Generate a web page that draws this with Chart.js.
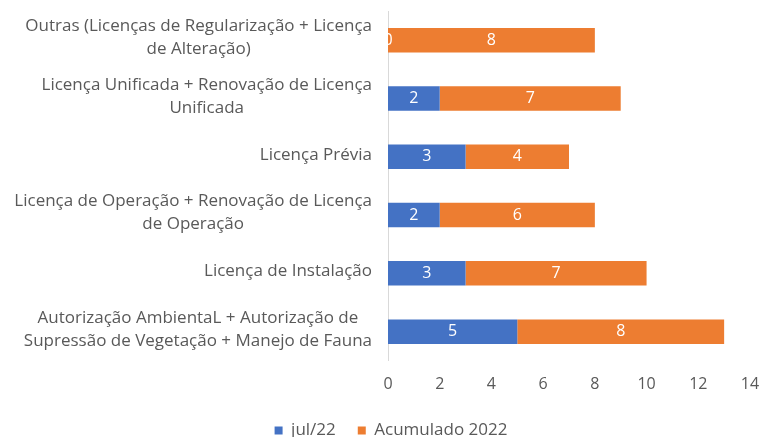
<!DOCTYPE html>
<html>
<head>
<meta charset="utf-8">
<script src="https://cdn.jsdelivr.net/npm/chart.js@4/dist/chart.umd.min.js"></script>
<style>
  html, body { margin: 0; padding: 0; background: #fff; }
  #wrap { width: 762px; height: 437px; }
</style>
</head>
<body>
<div id="wrap"><canvas id="grafico"></canvas></div>
<script>
// categorias (de cima para baixo), cada uma quebrada em linhas como no original
const categorias = [
    ['Outras (Licenças de Regularização + Licença', 'de Alteração)'],
    ['Licença Unificada + Renovação de Licença', 'Unificada'],
    ['Licença Prévia'],
    ['Licença de Operação + Renovação de Licença', 'de Operação'],
    ['Licença de Instalação'],
    ['Autorização AmbientaL + Autorização de', 'Supressão de Vegetação + Manejo de Fauna']
];
const julho22 = [0, 2, 3, 2, 3, 5];
const acumulado2022 = [8, 7, 4, 6, 7, 8];
const nomesSeries = ['jul/22', 'Acumulado 2022'];
const ticksX = [0, 2, 4, 6, 8, 10, 12, 14];

const corTexto = '#595959';
const fonte = '"Open Sans", "Liberation Sans", sans-serif';

// Plugin: rótulos das categorias (linhas centralizadas, bloco alinhado à direita)
const rotulosCategorias = {
    id: 'rotulosCategorias',
    afterDraw(chart) {
        const ctx = chart.ctx;
        const y = chart.scales.y;
        const direita = chart.chartArea.left - 16;
        const alturaLinha = 23;
        ctx.save();
        ctx.font = '17px ' + fonte;
        ctx.fillStyle = corTexto;
        ctx.textAlign = 'center';
        ctx.textBaseline = 'middle';
        categorias.forEach((linhas, i) => {
            const largura = Math.max(...linhas.map(l => ctx.measureText(l).width));
            const cx = direita - largura / 2;
            const cy = y.getPixelForValue(i) - 2;
            const inicio = cy - (linhas.length - 1) * alturaLinha / 2;
            linhas.forEach((l, k) => ctx.fillText(l, cx, inicio + k * alturaLinha));
        });
        ctx.restore();
    }
};

// Plugin: valores dentro das barras
const valoresBarras = {
    id: 'valoresBarras',
    afterDatasetsDraw(chart) {
        const ctx = chart.ctx;
        ctx.save();
        ctx.font = '16px ' + fonte;
        ctx.fillStyle = '#ffffff';
        ctx.textAlign = 'center';
        ctx.textBaseline = 'middle';
        chart.data.datasets.forEach((ds, d) => {
            chart.getDatasetMeta(d).data.forEach((barra, i) => {
                const meio = (barra.x + barra.base) / 2;
                ctx.fillText(String(ds.data[i]), meio, barra.y);
            });
        });
        ctx.restore();
    }
};

new Chart(document.getElementById('grafico').getContext('2d'), {
    type: 'bar',
    data: {
        labels: categorias.map(c => c.join(' ')),
        datasets: [
            { label: nomesSeries[0], data: julho22, backgroundColor: '#4472C4',
              categoryPercentage: 1, barPercentage: 0.42 },
            { label: nomesSeries[1], data: acumulado2022, backgroundColor: '#ED7D31',
              categoryPercentage: 1, barPercentage: 0.42 }
        ]
    },
    options: {
        indexAxis: 'y',
        responsive: true,
        maintainAspectRatio: false,
        animation: false,
        layout: { padding: { left: 32, right: 12, top: 11, bottom: -12 } },
        scales: {
            x: {
                stacked: true,
                min: 0,
                max: 14,
                afterBuildTicks: (eixo) => { eixo.ticks = ticksX.map(v => ({ value: v })); },
                afterFit: (eixo) => { eixo.paddingRight = 0; },
                grid: { display: false },
                border: { display: false },
                ticks: { color: corTexto, font: { family: fonte, size: 16 }, padding: 6 }
            },
            y: {
                stacked: true,
                afterFit: (eixo) => { eixo.width = 356; },
                grid: { display: false, drawTicks: false },
                border: { display: true, color: '#d9d9d9' },
                ticks: { display: false }
            }
        },
        plugins: {
            legend: {
                position: 'bottom',
                labels: {
                    color: corTexto,
                    font: { family: fonte, size: 17 },
                    boxWidth: 8,
                    boxHeight: 8,
                    padding: 22
                }
            },
            tooltip: { enabled: false }
        }
    },
    plugins: [rotulosCategorias, valoresBarras]
});
</script>
</body>
</html>
